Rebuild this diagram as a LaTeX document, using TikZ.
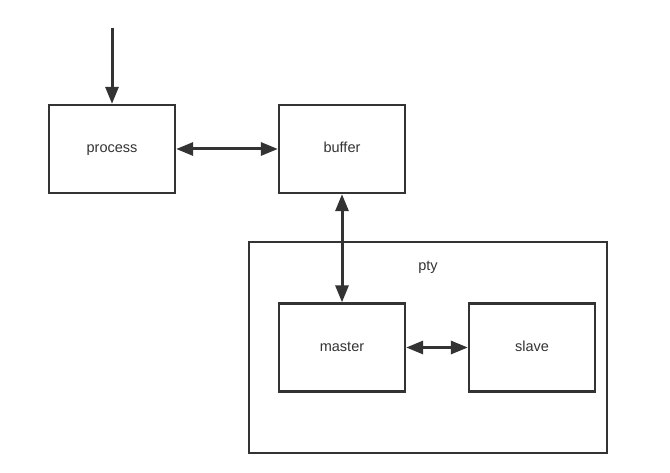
\documentclass[tikz,border=0pt]{standalone}
\usepackage{fontspec}
\setmainfont{Liberation Sans}
\usetikzlibrary{arrows.meta}
\definecolor{ink}{HTML}{333333}
\begin{document}
\begin{tikzpicture}[x=1pt,y=-1pt,
  lbl/.style={font=\fontsize{14.5}{17}\selectfont,text=ink,text height=8pt,text depth=0pt},
  box/.style={draw=ink,line width=2.3pt,minimum width=126pt,minimum height=88pt,inner sep=0pt,lbl},
  conn/.style={draw=ink,line width=3pt,-{Triangle[length=17pt,width=13pt]}},
  bconn/.style={draw=ink,line width=3pt,{Triangle[length=17pt,width=13pt]}-{Triangle[length=17pt,width=13pt]}}]
\useasboundingbox[fill=white] (0,0) rectangle (670,473);
\node[box,minimum width=358pt,minimum height=211pt] (pty) at (428,347.5) {};
\node[lbl] (ptylabel) at (428,267) {pty};
\node[box] (process) at (112,149) {process};
\node[box] (buffer) at (342,149) {buffer};
\node[box] (master) at (342,347.5) {master};
\node[box] (slave) at (532,347.5) {slave};
\coordinate (in) at (112,28);
\draw[conn] (in) -- (process.north);
\draw[bconn] (process.east) -- (buffer.west);
\draw[bconn] (buffer.south) -- (master.north);
\draw[bconn] (master.east) -- (slave.west);
\end{tikzpicture}
\end{document}
